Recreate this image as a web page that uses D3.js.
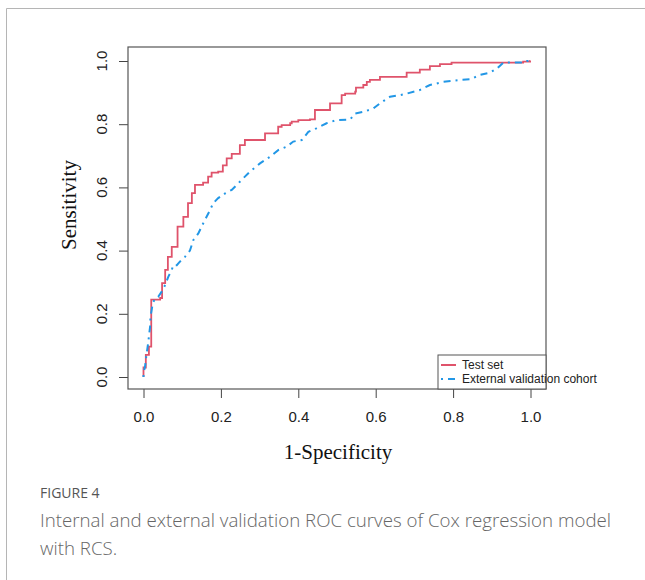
<!DOCTYPE html>
<html>
<head>
<meta charset="utf-8">
<script src="https://cdn.jsdelivr.net/npm/d3@7"></script>
<style>
  body { margin: 0; background: #fff; }
  svg { display: block; }
</style>
</head>
<body>
<div id="chart"></div>
<script>
// ROC points (1-specificity, sensitivity)
const testFpr = [0, 0, 0.006, 0.014, 0.02, 0.043, 0.048, 0.056, 0.063, 0.073, 0.088, 0.103, 0.115, 0.125, 0.133,
  0.154, 0.167, 0.176, 0.193, 0.205, 0.215, 0.228, 0.249, 0.262, 0.314, 0.348, 0.357, 0.379, 0.383, 0.4, 0.43,
  0.443, 0.482, 0.512, 0.521, 0.547, 0.549, 0.568, 0.577, 0.585, 0.611, 0.68, 0.714, 0.74, 0.766, 0.796, 0.981, 0.999, 1];
const testTpr = [0, 0.03, 0.07, 0.096, 0.245, 0.25, 0.297, 0.339, 0.38, 0.412, 0.476, 0.507, 0.55, 0.582, 0.608,
  0.615, 0.634, 0.647, 0.65, 0.67, 0.692, 0.706, 0.734, 0.75, 0.771, 0.792, 0.797, 0.803, 0.808, 0.813, 0.815,
  0.845, 0.866, 0.892, 0.897, 0.903, 0.916, 0.924, 0.934, 0.94, 0.95, 0.963, 0.973, 0.984, 0.99, 0.995, 0.998, 1, 1];

const extFpr = [0, 0, 0.004, 0.007, 0.012, 0.017, 0.018, 0.024, 0.03, 0.038, 0.047, 0.056, 0.064, 0.073, 0.077,
  0.086, 0.094, 0.107, 0.12, 0.129, 0.142, 0.15, 0.163, 0.172, 0.18, 0.193, 0.211, 0.228, 0.249, 0.275, 0.301,
  0.327, 0.348, 0.37, 0.387, 0.409, 0.426, 0.447, 0.473, 0.499, 0.534, 0.547, 0.568, 0.594, 0.611, 0.637, 0.663,
  0.681, 0.714, 0.74, 0.775, 0.818, 0.844, 0.87, 0.895, 0.913, 0.93, 0.982, 0.99, 1];
const extTpr = [0, 0.012, 0.033, 0.064, 0.107, 0.159, 0.19, 0.233, 0.249, 0.254, 0.27, 0.291, 0.317, 0.339, 0.354,
  0.354, 0.365, 0.38, 0.4, 0.434, 0.455, 0.476, 0.507, 0.528, 0.55, 0.566, 0.581, 0.592, 0.618, 0.65, 0.676,
  0.697, 0.718, 0.729, 0.745, 0.75, 0.776, 0.787, 0.803, 0.813, 0.815, 0.834, 0.839, 0.85, 0.866, 0.887, 0.892,
  0.897, 0.908, 0.924, 0.934, 0.94, 0.942, 0.956, 0.963, 0.976, 0.995, 0.995, 1, 1];

const xTicks = [0, 0.2, 0.4, 0.6, 0.8, 1.0];
const yTicks = [0, 0.2, 0.4, 0.6, 0.8, 1.0];
const legendLabels = ["Test set", "External validation cohort"];
const captionTitle = "FIGURE 4";
const captionLines = ["Internal and external validation ROC curves of Cox regression model", "with RCS."];

const RED = "#DF536B", BLUE = "#2297E6";
const width = 645, height = 580;

const svg = d3.select("#chart").append("svg")
  .attr("width", width)
  .attr("height", height);

// figure frame (page border)
svg.append("path")
  .attr("d", "M6.5,580 V8.5 H645")
  .attr("fill", "none")
  .attr("stroke", "#b5b5b5")
  .attr("stroke-width", 1);

const box = { left: 128, top: 47, right: 546, bottom: 389 };

const x = d3.scaleLinear().domain([0, 1]).range([143.5, 530.5]);
const y = d3.scaleLinear().domain([0, 1]).range([377, 61]);

// x axis
const xAxis = svg.append("g")
  .attr("transform", `translate(0,${box.bottom})`)
  .call(d3.axisBottom(x).tickValues(xTicks).tickFormat(d3.format(".1f")).tickSize(9).tickPadding(13));
xAxis.select(".domain").remove();
xAxis.selectAll("line").attr("stroke", "#444");
xAxis.selectAll("text")
  .style("font-family", "Liberation Sans, Arial, sans-serif")
  .style("font-size", "15px")
  .attr("fill", "#222");

// y axis (labels rotated like base R)
const yAxis = svg.append("g")
  .attr("transform", `translate(${box.left},0)`)
  .call(d3.axisLeft(y).tickValues(yTicks).tickFormat("").tickSize(9));
yAxis.select(".domain").remove();
yAxis.selectAll("line").attr("stroke", "#444");

svg.append("g").selectAll("text")
  .data(yTicks)
  .enter().append("text")
  .attr("transform", d => `translate(107,${y(d)}) rotate(-90)`)
  .attr("text-anchor", "middle")
  .style("font-family", "Liberation Sans, Arial, sans-serif")
  .style("font-size", "15px")
  .attr("fill", "#222")
  .text(d3.format(".1f"));

// axis titles
svg.append("text")
  .attr("x", 338)
  .attr("y", 459)
  .attr("text-anchor", "middle")
  .style("font-family", "Liberation Serif, Times New Roman, serif")
  .style("font-size", "21px")
  .attr("fill", "#111")
  .text("1-Specificity");

svg.append("text")
  .attr("transform", "translate(76,205) rotate(-90)")
  .attr("text-anchor", "middle")
  .style("font-family", "Liberation Serif, Times New Roman, serif")
  .style("font-size", "21px")
  .attr("fill", "#111")
  .text("Sensitivity");

// curves
const testData = testFpr.map((f, i) => [f, testTpr[i]]);
const extData = extFpr.map((f, i) => [f, extTpr[i]]);

svg.append("path")
  .datum(testData)
  .attr("fill", "none")
  .attr("stroke", RED)
  .attr("stroke-width", 1.8)
  .attr("d", d3.line().x(d => x(d[0])).y(d => y(d[1])).curve(d3.curveStepAfter));

svg.append("path")
  .datum(extData)
  .attr("fill", "none")
  .attr("stroke", BLUE)
  .attr("stroke-width", 2)
  .attr("stroke-dasharray", "2,5,7,5")
  .attr("d", d3.line().x(d => x(d[0])).y(d => y(d[1])));

// plot box
svg.append("rect")
  .attr("x", box.left)
  .attr("y", box.top)
  .attr("width", box.right - box.left)
  .attr("height", box.bottom - box.top)
  .attr("fill", "none")
  .attr("stroke", "#555")
  .attr("stroke-width", 1.2);

// legend (bottom right, text spills past the box like the original)
const legend = svg.append("g");
legend.append("rect")
  .attr("x", 438)
  .attr("y", 355)
  .attr("width", box.right - 438)
  .attr("height", box.bottom - 355)
  .attr("fill", "#fff")
  .attr("stroke", "#555")
  .attr("stroke-width", 1);

const legendColors = [RED, BLUE];
const legendDash = [null, "2,5,7,5"];
legendLabels.forEach((lab, i) => {
  const ly = 365 + i * 14;
  legend.append("line")
    .attr("x1", 441).attr("x2", 456)
    .attr("y1", ly).attr("y2", ly)
    .attr("stroke", legendColors[i])
    .attr("stroke-width", 2)
    .attr("stroke-dasharray", legendDash[i]);
  legend.append("text")
    .attr("x", 462)
    .attr("y", ly + 4)
    .style("font-family", "Liberation Sans, Arial, sans-serif")
    .style("font-size", "12px")
    .attr("fill", "#222")
    .text(lab);
});

// caption
svg.append("text")
  .attr("x", 40)
  .attr("y", 498)
  .style("font-family", "Open Sans, sans-serif")
  .style("font-size", "14px")
  .attr("fill", "#555")
  .text(captionTitle);

svg.append("g").selectAll("text")
  .data(captionLines)
  .enter().append("text")
  .attr("x", 40)
  .attr("y", (d, i) => 527 + i * 28)
  .style("font-family", "Open Sans, sans-serif")
  .style("font-size", "18.7px")
  .style("font-weight", 300)
  .attr("fill", "#666")
  .text(d => d);
</script>
</body>
</html>
